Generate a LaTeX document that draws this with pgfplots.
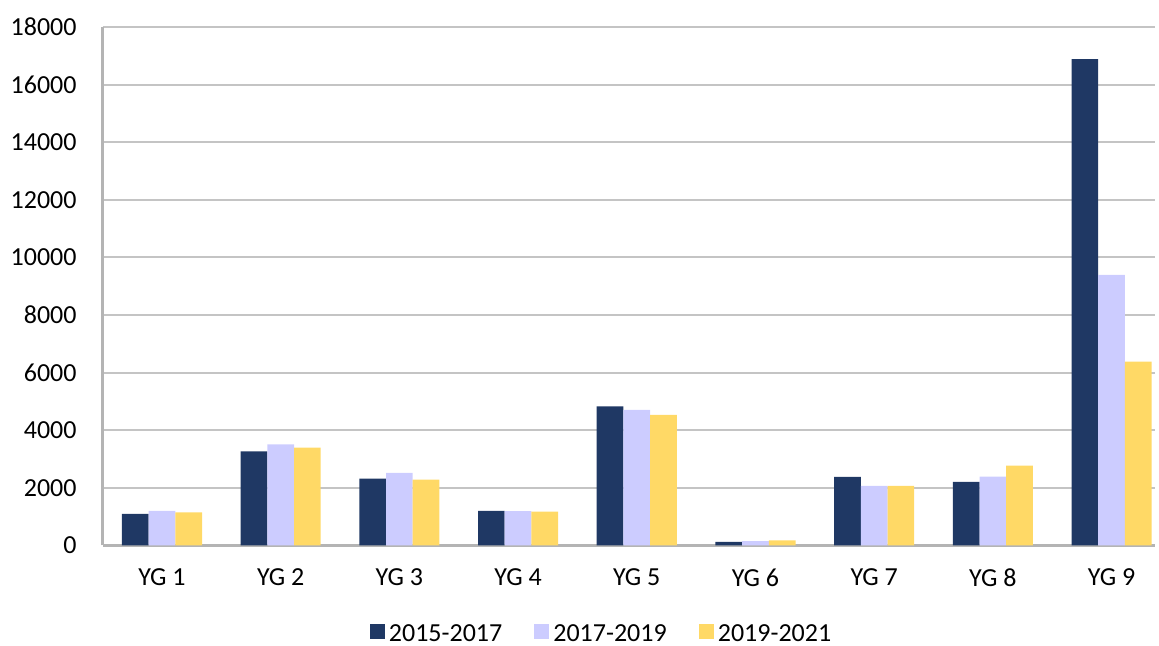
\documentclass[border=0pt]{standalone}
\usepackage{pgfplots}
\pgfplotsset{compat=1.18}
\usepackage{fontspec}
\setmainfont{Carlito}
\definecolor{cdark}{HTML}{1F3864}
\definecolor{clav}{HTML}{CCCCFF}
\definecolor{cyel}{HTML}{FFD966}
\definecolor{cgrid}{HTML}{C4C4C4}
\definecolor{caxis}{HTML}{B4B4B4}
\begin{document}
\begin{tikzpicture}
\path[use as bounding box] (-51.3pt,-50.25pt) rectangle (528.2pt,272.75pt);
\begin{axis}[
  at={(0,0)}, anchor=south west,
  scale only axis,
  width=526.2pt, height=259.25pt,
  ybar=0pt, bar width=13.35pt,
  xmin=-0.5, xmax=8.366,
  ymin=0, ymax=18000,
  ytick={0,2000,...,18000},
  xtick={0,1,...,8},
  xticklabels={YG 1,YG 2,YG 3,YG 4,YG 5,YG 6,YG 7,YG 8,YG 9},
  /pgf/number format/assume math mode=true,
  scaled y ticks=false,
  yticklabel style={/pgf/number format/fixed,/pgf/number format/1000 sep={}},
  tick label style={font=\fontsize{13}{15}\selectfont, text=black},
  yticklabel style={xshift=-9.5pt},
  xticklabel style={yshift=-8pt},
  major tick length=0pt,
  ymajorgrids, grid style={cgrid, line width=1pt},
  axis x line*=bottom, axis y line*=left,
  axis line style={caxis, line width=1.1pt, -},
  legend style={at={(0.475,-0.172)}, anchor=center, draw=none, inner sep=1pt,
    legend columns=-1, font=\fontsize{13}{15}\selectfont,
    /tikz/every even column/.append style={column sep=14pt}},
  legend image code/.code={\fill[#1] (0.05cm,-0.08cm) rectangle (0.315cm,0.185cm);},
]
\addplot[fill=cdark, draw=none] coordinates {(0,1095) (1,3270) (2,2320) (3,1198) (4,4833) (5,122) (6,2378) (7,2205) (8,16882)};
\addplot[fill=clav, draw=none] coordinates {(0,1198) (1,3514) (2,2517) (3,1190) (4,4705) (5,156) (6,2066) (7,2390) (8,9392)};
\addplot[fill=cyel, draw=none] coordinates {(0,1150) (1,3396) (2,2285) (3,1175) (4,4531) (5,180) (6,2066) (7,2771) (8,6382)};
\legend{2015-2017,2017-2019,2019-2021}
\end{axis}
\end{tikzpicture}
\end{document}
